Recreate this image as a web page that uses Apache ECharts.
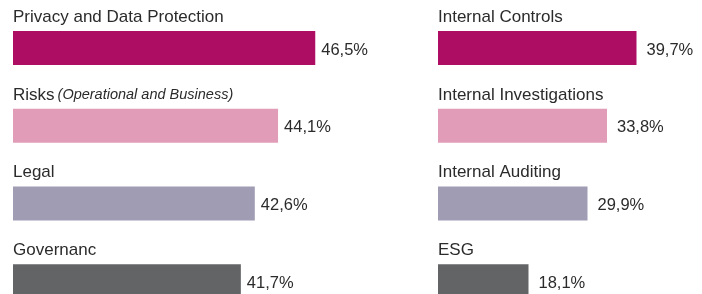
<!DOCTYPE html>
<html>
<head>
<meta charset="utf-8">
<script src="https://cdn.jsdelivr.net/npm/echarts@6/dist/echarts.min.js"></script>
<style>
  html, body { margin: 0; padding: 0; background: #fff; }
  #chart { width: 702px; height: 294px; }
</style>
</head>
<body>
<div id="chart"></div>
<script>
// left column
const leftNames = ['Privacy and Data Protection', 'Risks', 'Legal', 'Governanc'];
const leftValues = [46.5, 44.1, 42.6, 41.7];
// right column
const rightNames = ['Internal Controls', 'Internal Investigations', 'Internal Auditing', 'ESG'];
const rightValues = [39.7, 33.8, 29.9, 18.1];
// italic note after "Risks"
const riskNote = '(Operational and Business)';

const barColors = ['#ad0d63', '#e19cb7', '#9f9cb3', '#636466'];
const textColor = '#2b2b2b';
const font = '"Liberation Sans", Arial, Helvetica, sans-serif';

let chart = echarts.init(document.getElementById('chart'));

function fmtValue(p) {
  return p.value.toFixed(1).replace('.', ',') + '%';
}

function nameLabel(name) {
  if (name === 'Risks') {
    return '{n|' + name + '}{i|' + riskNote + '}';
  }
  return '{n|' + name + '}';
}

function yAxisFor(names, idx) {
  return {
    type: 'category',
    gridIndex: idx,
    data: names,
    inverse: true,
    axisLine: {show: false},
    axisTick: {show: false},
    axisLabel: {
      inside: true,
      interval: 0,
      margin: 0,
      padding: [0, 0, 62, 0],
      verticalAlign: 'middle',
      formatter: nameLabel,
      rich: {
        n: {fontSize: 17, color: textColor, fontFamily: font},
        i: {fontSize: 14.5, fontStyle: 'italic', color: textColor, fontFamily: font, padding: [0, 0, 0, 3]}
      }
    },
    z: 10
  };
}

function seriesFor(values, idx, dist) {
  return {
    type: 'bar',
    xAxisIndex: idx,
    yAxisIndex: idx,
    barWidth: 34,
    data: values.map((v, i) => ({value: v, itemStyle: {color: barColors[i]}})),
    label: {
      show: true,
      position: 'right',
      distance: dist,
      offset: [0, 2],
      formatter: fmtValue,
      color: textColor,
      fontSize: 16.5,
      fontFamily: font
    }
  };
}

chart.setOption({
  animation: false,
  textStyle: {fontFamily: font},
  grid: [
    {left: 13, top: 9.2, width: 310, height: 311, outerBoundsMode: 'none'},
    {left: 438, top: 9.2, width: 200, height: 311, outerBoundsMode: 'none'}
  ],
  xAxis: [
    {type: 'value', gridIndex: 0, min: 27, max: 47, show: false},
    {type: 'value', gridIndex: 1, min: 0, max: 40, show: false}
  ],
  yAxis: [yAxisFor(leftNames, 0), yAxisFor(rightNames, 1)],
  series: [seriesFor(leftValues, 0, 6), seriesFor(rightValues, 1, 10)]
});
</script>
</body>
</html>
